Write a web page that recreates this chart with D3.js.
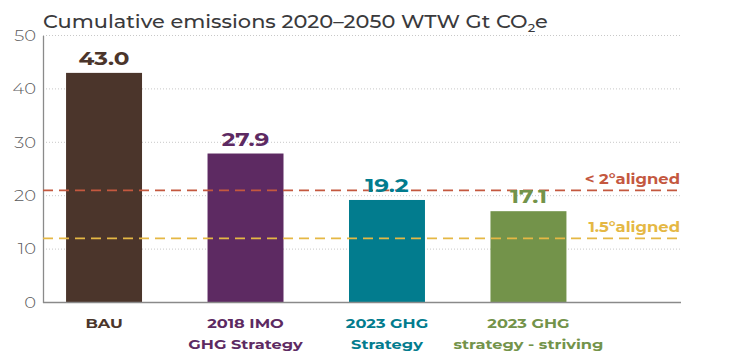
<!DOCTYPE html>
<html><head><meta charset="utf-8">
<script src="https://cdn.jsdelivr.net/npm/d3@7"></script>
<style>body{margin:0;background:#fff}svg{display:block}text{font-family:"Montserrat","Lato","Open Sans",sans-serif}</style>
</head><body><svg id="c" width="743" height="355"></svg>
<script>
const categories = [["BAU"], ["2018 IMO","GHG Strategy"], ["2023 GHG","Strategy"], ["2023 GHG","strategy - striving"]];
const values = [43.0, 27.9, 19.2, 17.1];
const colors = ["#4b352b", "#5d2a62", "#027c8e", "#73934a"];
const yTicks = [0, 10, 20, 30, 40, 50];
const refLines = [{value: 21, label: "< 2°aligned", color: "#c4583f"}, {value: 12, label: "1.5°aligned", color: "#e5b844"}];

const svg = d3.select("#c");
const x0 = 43, x1 = 681, yTop = 35.5, yBot = 302.5;
const SX = 1.2;
const y = d3.scaleLinear().domain([0, 50]).range([yBot, yTop]);
const x = d3.scaleBand().domain(d3.range(values.length)).range([43, 589.5]).paddingInner(0.463).paddingOuter(0.163);

function stretched(sel, px, py, s) {
  return sel.attr("transform", `translate(${px},${py}) scale(${s},1)`);
}

// title
const t = svg.append("text").attr("font-size", 18.5).attr("fill", "#3a3a3c").attr("font-weight", 500);
stretched(t, 43, 28, 1.13);
t.append("tspan").text("Cumulative emissions 2020–2050 WTW Gt CO");
t.append("tspan").attr("font-size", 11.5).attr("dy", 4).text("2");
t.append("tspan").attr("dy", -4).text("e");

// gridlines
svg.append("g").selectAll("line").data(yTicks.filter(d => d > 0)).join("line")
  .attr("x1", x0).attr("x2", x1).attr("y1", d => y(d)).attr("y2", d => y(d))
  .attr("stroke", "#c8c8c8").attr("stroke-width", 1).attr("stroke-dasharray", "1,2");

// y axis
const ya = svg.append("g").attr("transform", `translate(${x0},0)`)
  .call(d3.axisLeft(y).tickValues(yTicks).tickSize(0).tickPadding(0));
ya.select(".domain").attr("stroke", "#8a8a8a").attr("stroke-width", 1.3);
ya.selectAll("text").attr("font-size", 15).attr("fill", "#5a5a5c").attr("font-weight", 300)
  .attr("font-family", "Montserrat, Lato, 'Open Sans', sans-serif")
  .attr("x", 0).attr("transform", `translate(-7,0) scale(${SX},1)`);

// bars
svg.append("g").selectAll("rect").data(values).join("rect")
  .attr("x", (d, i) => x(i)).attr("width", x.bandwidth())
  .attr("y", d => y(d)).attr("height", d => y(0) - y(d))
  .attr("fill", (d, i) => colors[i]);

// reference lines
refLines.forEach(r => {
  svg.append("line").attr("x1", x0).attr("x2", x1).attr("y1", y(r.value)).attr("y2", y(r.value))
    .attr("stroke", r.color).attr("stroke-width", 1.6).attr("stroke-dasharray", "10,6");
  const lt = svg.append("text").attr("text-anchor", "end")
    .attr("font-size", 14).attr("font-weight", 700).attr("fill", r.color).text(r.label);
  stretched(lt, 680, y(r.value) - 6, 1.17);
});

// x axis
svg.append("line").attr("x1", x0).attr("x2", x1).attr("y1", yBot).attr("y2", yBot)
  .attr("stroke", "#8a8a8a").attr("stroke-width", 1.3);

// value labels
svg.append("g").selectAll("text").data(values).join("text")
  .attr("transform", (d, i) => `translate(${x(i) + x.bandwidth() / 2},${y(d) - 8}) scale(1.25,1)`)
  .attr("text-anchor", "middle").attr("font-size", 18.5).attr("font-weight", 700)
  .attr("fill", (d, i) => colors[i]).text(d => d.toFixed(1));

// category labels
const cl = svg.append("g").selectAll("text").data(categories).join("text")
  .attr("transform", (d, i) => `translate(${x(i) + x.bandwidth() / 2},328) scale(${SX},1)`)
  .attr("text-anchor", "middle").attr("font-size", 13.5).attr("font-weight", 700)
  .attr("fill", (d, i) => colors[i]);
cl.selectAll("tspan").data(d => d).join("tspan")
  .attr("x", 0).attr("dy", (d, j) => j === 0 ? 0 : 21).text(d => d);
</script></body></html>
